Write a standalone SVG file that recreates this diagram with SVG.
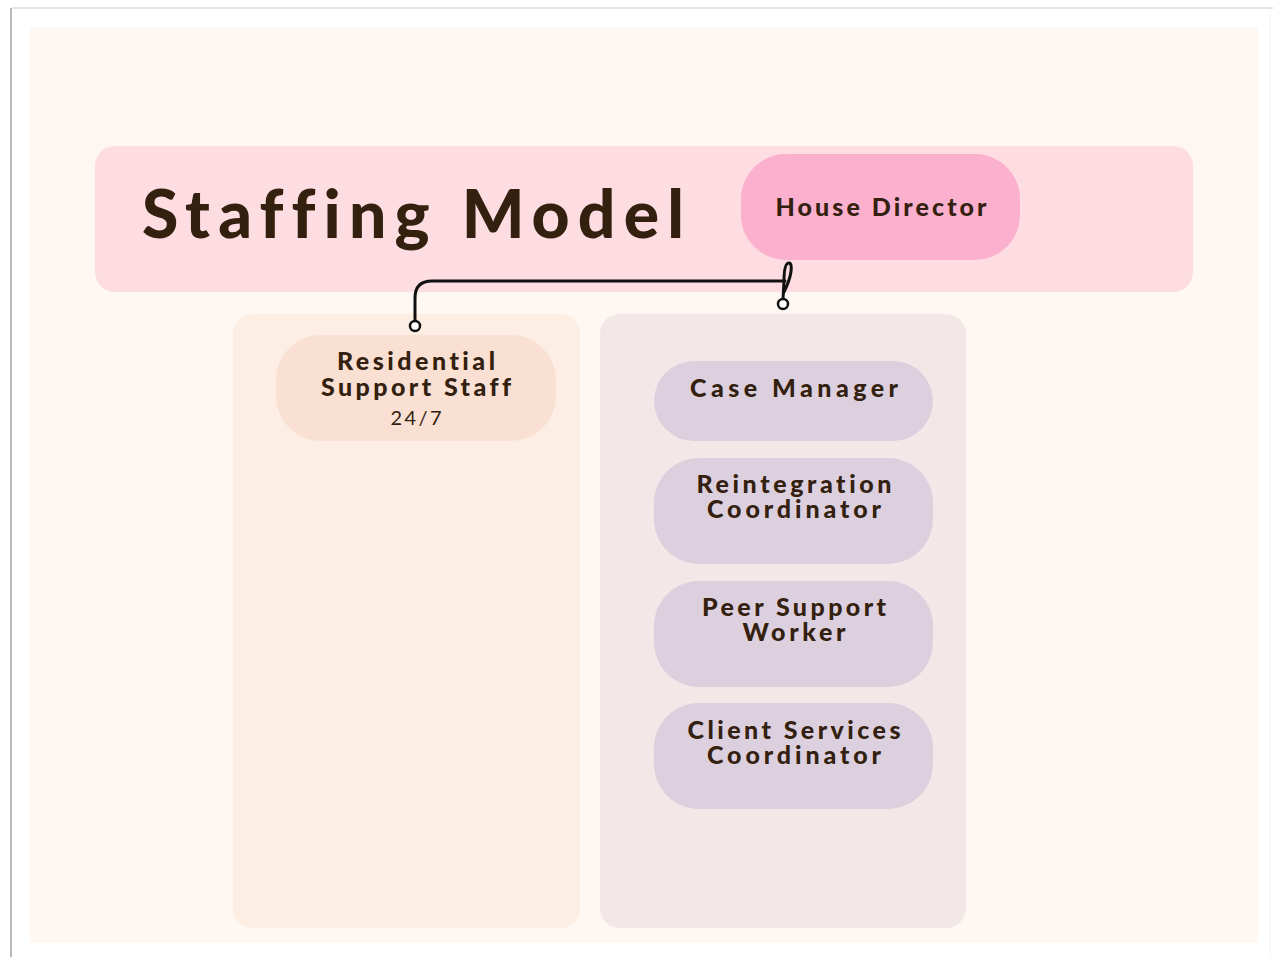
<svg xmlns="http://www.w3.org/2000/svg" width="1273" height="957" viewBox="0 0 1273 957">
<style>
.t{font-family:"Lato","Noto Sans","Liberation Sans",sans-serif;font-weight:900;fill:#33200f;text-anchor:middle;font-variant-ligatures:none}
.n{font-size:25px}
.title{text-anchor:start;font-size:66px}
.sub{font-size:20px;font-weight:normal}
.role{fill:#ddd0de}
.wire{fill:none;stroke:#111;stroke-width:3;stroke-linecap:round;stroke-linejoin:round}
.dot{fill:#fff;stroke:#111;stroke-width:2.5}
</style>
<rect x="0" y="0" width="1273" height="957" fill="#fff"/>
<line x1="12" y1="8" x2="1273" y2="8" stroke="#e4e4e4" stroke-width="2"/>
<line x1="11" y1="8" x2="11" y2="957" stroke="#b9b9b9" stroke-width="2"/>
<line x1="1270" y1="10" x2="1270" y2="957" stroke="#f4f4f4" stroke-width="1"/>
<rect x="30" y="27" width="1228" height="916" fill="#fff7f1"/>
<g id="header">
<rect x="95" y="146" width="1098" height="146" rx="20" fill="#fddde2"/>
<text class="t title" x="142" y="238" textLength="542" lengthAdjust="spacing">Staffing Model</text>
</g>
<g id="col-left"><rect x="233" y="314" width="347" height="614" rx="20" fill="#fceee3"/></g>
<g id="col-right"><rect x="600" y="314" width="366" height="614" rx="20" fill="#f2e8e8"/></g>
<g id="house-director">
<rect x="741" y="154" width="279" height="106" rx="45" fill="#fbb0cd"/>
<text class="t n" x="881" y="216" textLength="211" lengthAdjust="spacing">House Director</text>
</g>
<g id="residential-support-staff">
<rect x="276" y="335" width="280" height="106" rx="45" fill="#f9e0d3"/>
<text class="t n" x="416" y="370" textLength="158" lengthAdjust="spacing">Residential</text>
<text class="t n" x="416" y="396" textLength="190" lengthAdjust="spacing">Support Staff</text>
<text class="t sub" x="416" y="425" textLength="51" lengthAdjust="spacing">24/7</text>
</g>
<g id="case-manager">
<rect class="role" x="654" y="361" width="279" height="80" rx="40"/>
<text class="t n" x="794" y="397" textLength="208" lengthAdjust="spacing">Case Manager</text>
</g>
<g id="reintegration-coordinator">
<rect class="role" x="654" y="458" width="279" height="106" rx="45"/>
<text class="t n" x="794" y="493" textLength="195" lengthAdjust="spacing">Reintegration</text>
<text class="t n" x="794" y="518" textLength="174" lengthAdjust="spacing">Coordinator</text>
</g>
<g id="peer-support-worker">
<rect class="role" x="654" y="581" width="279" height="106" rx="45"/>
<text class="t n" x="794" y="616" textLength="184" lengthAdjust="spacing">Peer Support</text>
<text class="t n" x="794" y="641" textLength="103" lengthAdjust="spacing">Worker</text>
</g>
<g id="client-services-coordinator">
<rect class="role" x="654" y="703" width="279" height="106" rx="45"/>
<text class="t n" x="794" y="739" textLength="213" lengthAdjust="spacing">Client Services</text>
<text class="t n" x="794" y="764" textLength="174" lengthAdjust="spacing">Coordinator</text>
</g>
<g id="connectors">
<path class="wire" d="M415,321 L415,298 Q415,281 432,281 L785,281"/>
<path class="wire" d="M783,299 L784,281 C784,272 785,263 789,263 C793,263 792,276 784,292"/>
<circle class="dot" cx="415" cy="326" r="5"/>
<circle class="dot" cx="783" cy="304" r="5"/>
</g>
</svg>
